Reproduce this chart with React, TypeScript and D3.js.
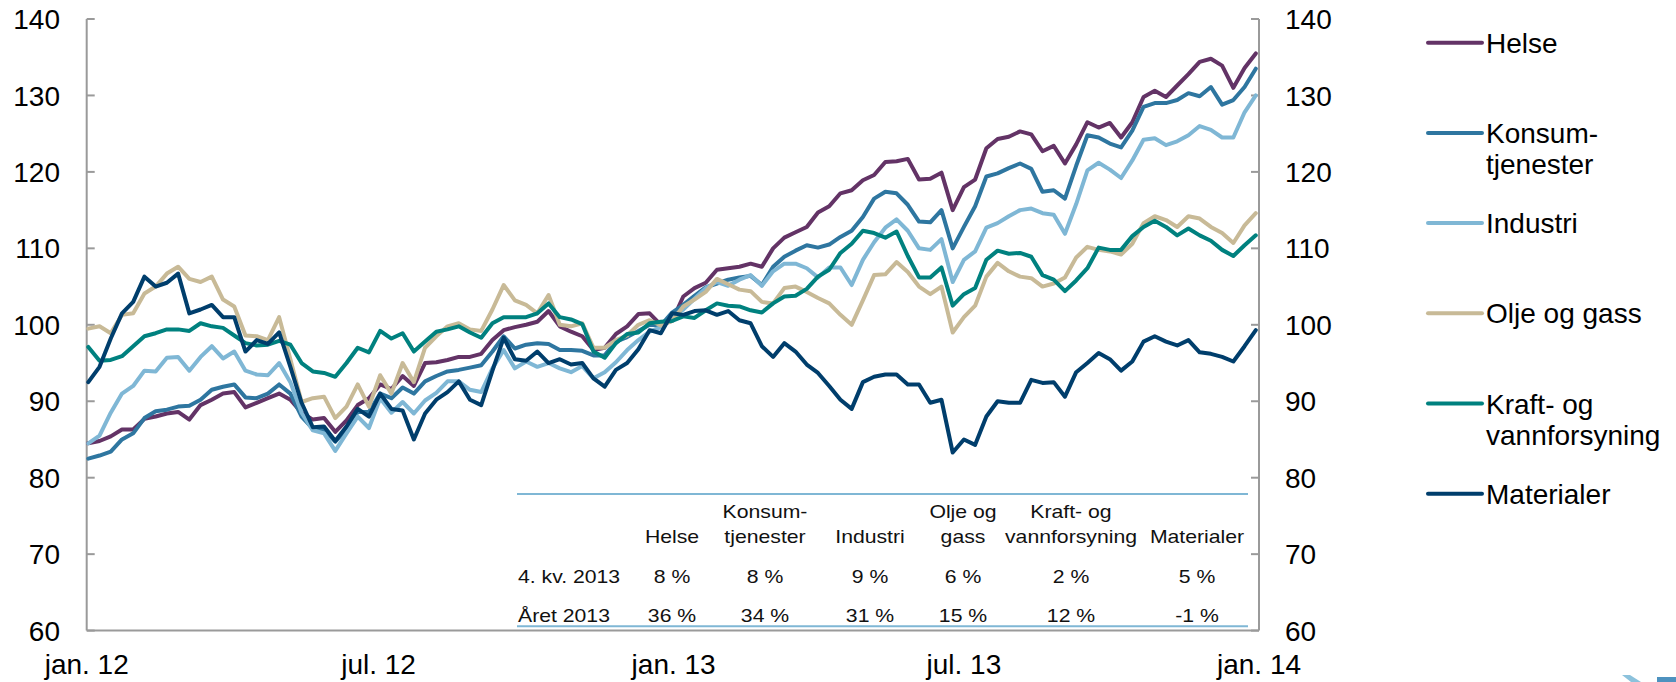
import React from "react";
import * as d3 from "d3";

// ---------- data ----------
const startDate = new Date(2012, 0, 2); // weekly observations
const seriesNames = ["Helse", "Konsumtjenester", "Industri", "Olje og gass", "Kraft- og vannforsyning", "Materialer"];
const legendLines = [["Helse"], ["Konsum-", "tjenester"], ["Industri"], ["Olje og gass"], ["Kraft- og", "vannforsyning"], ["Materialer"]];
const colors = ["#633366", "#2e76a0", "#7fb7d5", "#c8ba97", "#00817f", "#003e6c"];

const helse = [84.5, 84.8, 85.4, 86.3, 86.3, 87.7, 88, 88.4, 88.6, 87.6, 89.5, 90.2, 91, 91.2, 89.2, 89.8, 90.4, 91, 90.2, 88.5, 87.6, 87.8, 86, 87.5, 89.5, 90.4, 92.2, 91.6, 93.3, 92, 95, 95.1, 95.4, 95.8, 95.8, 96.2,
  98, 99.3, 99.7, 100, 100.4, 101.8, 99.8, 99.1, 98.5, 96.7, 97, 98.8, 99.8, 101.4, 101.5, 100, 100.5, 103.7, 104.8, 105.5, 107.2, 107.4, 107.6, 108, 107.6, 110, 111.4, 112.1, 112.8, 114.7, 115.5, 117.2, 117.6, 118.9,
  119.6, 121.3, 121.4, 121.7, 119, 119.1, 119.9, 115, 118, 119, 123.1, 124.3, 124.6, 125.3, 124.9, 122.7, 123.4, 121.1, 123.6, 126.5, 125.8, 126.4, 124.5, 126.5, 129.8, 130.6, 129.8, 131.3, 132.8, 134.4, 134.8, 133.9, 131, 133.6, 135.5];
const konsum = [82.5, 82.9, 83.4, 85, 85.8, 87.8, 88.7, 88.9, 89.3, 89.4, 90.2, 91.5, 91.9, 92.2, 90.5, 90.4, 91, 92.2, 91, 88, 86.4, 86.3, 84.7, 86.3, 88.6, 88.6, 91, 90.4, 91.8, 91, 92.6, 93.3, 93.9, 94.1, 94.4, 94.7,
  96.5, 98.5, 96.9, 97.4, 97.6, 97.5, 96.7, 96.7, 96.6, 96, 96, 97.8, 98.4, 99.2, 100, 99.9, 101.6, 102.6, 103.8, 104.9, 105.4, 105.9, 106.2, 106.4, 105.2, 107.6, 108.9, 109.7, 110.4, 110.1, 110.5, 111.5, 112.3, 114.1,
  116.5, 117.4, 117.2, 115.7, 113.5, 113.4, 115, 110, 112.8, 115.5, 119.4, 119.8, 120.5, 121.1, 120.4, 117.4, 117.6, 116.5, 120.8, 124.8, 124.5, 123.7, 123.2, 125.4, 128.5, 129, 129, 129.4, 130.3, 129.9, 131.1, 128.8, 129.4, 131.1, 133.5];
const industri = [84.5, 85.5, 88.5, 91, 92, 94, 93.9, 95.7, 95.8, 94, 95.8, 97.2, 95.6, 96.5, 94, 93.5, 93.4, 95, 92.5, 88.5, 86.2, 85.8, 83.5, 85.8, 88, 86.5, 90.4, 88.5, 89.9, 88.4, 90.1, 91.1, 92.6, 92.6, 91.5, 91.2,
  94.3, 96.7, 94.3, 95.2, 94.5, 95, 94.3, 93.8, 94.6, 93, 93.8, 95.1, 96.7, 98, 99.1, 99.7, 101, 102, 103.4, 104.8, 105.6, 105.1, 105.9, 106.5, 105.1, 107, 108, 108, 107.4, 106.2, 107.5, 107.5, 105.2, 108.5,
  110.8, 112.7, 113.8, 112.3, 110, 109.8, 111.2, 105.6, 108.5, 109.6, 112.7, 113.3, 114.2, 115, 115.2, 114.6, 114.4, 111.9, 115.8, 120.2, 121.2, 120.3, 119.2, 121.5, 124.2, 124.4, 123.5, 124, 124.8, 126, 125.5, 124.5, 124.5, 127.8, 130];
const olje = [99.5, 99.8, 98.9, 101.3, 101.5, 104.1, 105, 106.7, 107.6, 106, 105.6, 106.3, 103.3, 102.4, 98.6, 98.5, 98, 101, 95.5, 89.9, 90.4, 90.6, 87.8, 89.3, 92.2, 89.3, 93.4, 91, 95, 92.5, 97, 98.5, 99.8, 100.2, 99.4, 99.2,
  102, 105.2, 103.2, 102.6, 101.5, 103.9, 100, 99.8, 100.2, 97, 97, 98, 98.6, 100, 100.6, 99.9, 100.5, 102.4, 103.3, 104.3, 106, 105.3, 104.6, 104.4, 103, 102.8, 104.8, 105, 104.3, 103.5, 102.8, 101.3, 100, 103.2,
  106.5, 106.6, 108.2, 106.9, 105, 104, 105, 99, 101, 102.5, 106.3, 108.1, 107, 106.3, 106.1, 105, 105.4, 106.2, 108.8, 110.2, 109.8, 109.6, 109.2, 110.6, 113.3, 114.2, 113.7, 112.8, 114.2, 113.9, 112.8, 112, 110.7, 113, 114.6];
const kraft = [97.1, 95.3, 95.4, 95.9, 97.2, 98.5, 98.9, 99.4, 99.4, 99.2, 100.2, 99.8, 99.6, 98.6, 97.6, 97.3, 97.4, 97.9, 97.4, 95, 93.9, 93.7, 93.2, 95, 97, 96.4, 99.2, 98.2, 98.9, 96.5, 97.8, 99.1, 99.4, 99.8, 99, 98.3,
  100.2, 101, 101, 101, 101.5, 102.8, 101, 100.7, 100.1, 96.5, 95.7, 97.6, 98.8, 99, 100.2, 100.4, 100.5, 101.1, 100.9, 101.9, 102.8, 102.5, 102.4, 101.9, 101.6, 102.8, 103.7, 103.8, 104.7, 106.3, 107.2, 109.4, 110.6, 112.3,
  112, 111.4, 112.2, 109, 106.2, 106.2, 107.5, 102.5, 104, 104.8, 108.5, 109.7, 109.3, 109.4, 108.9, 106.5, 105.9, 104.4, 105.8, 107.4, 110.1, 109.8, 109.8, 111.6, 112.8, 113.6, 112.8, 111.7, 112.6, 111.7, 111, 109.8, 109, 110.4, 111.7];
const materialer = [92.5, 94.5, 98.2, 101.5, 103, 106.3, 105, 105.5, 106.7, 101.5, 102, 102.6, 101, 101, 96.5, 98, 97.5, 99, 94.5, 89.8, 86.6, 86.7, 84.8, 86.7, 89, 88, 91, 89, 88.8, 85, 88.4, 90.2, 91.2, 92.6, 90.2, 89.5,
  94, 98.3, 95.5, 95.3, 96.5, 95, 95.5, 94.8, 95, 93, 91.9, 94.1, 95, 96.8, 99.3, 98.9, 101.5, 101.3, 101.8, 101.9, 101.3, 101.8, 100.6, 100.2, 97.2, 95.8, 97.6, 96.5, 94.8, 93.7, 92, 90.2, 89, 92.5,
  93.2, 93.5, 93.5, 92.2, 92.2, 89.8, 90.2, 83.3, 85, 84.3, 88, 90, 89.8, 89.8, 92.8, 92.4, 92.5, 90.6, 93.8, 95, 96.3, 95.5, 94, 95.2, 97.8, 98.5, 97.8, 97.3, 98, 96.4, 96.2, 95.8, 95.2, 97.2, 99.3];

const yTicks = [60, 70, 80, 90, 100, 110, 120, 130, 140];
const xTickDates = [new Date(2012, 0, 1), new Date(2012, 6, 1), new Date(2013, 0, 1), new Date(2013, 6, 1), new Date(2014, 0, 1)];
const xTickLabels = ["jan. 12", "jul. 12", "jan. 13", "jul. 13", "jan. 14"];

// table
const tableHead1 = ["", "Konsum-", "", "Olje og", "Kraft- og", ""];
const tableHead2 = ["Helse", "tjenester", "Industri", "gass", "vannforsyning", "Materialer"];
const rowLabels = ["4. kv. 2013", "Året 2013"];
const rowQ4 = ["8 %", "8 %", "9 %", "6 %", "2 %", "5 %"];
const rowYear = ["36 %", "34 %", "31 %", "15 %", "12 %", "-1 %"];

const allSeries = [helse, konsum, industri, olje, kraft, materialer];

const FONT = "'Liberation Sans', Arial, Helvetica, sans-serif";

export default function App() {
  const W = 1676, H = 682;
  const x0 = 86.7, x1 = 1259, yTop = 19, yBot = 630.6;
  const x = d3.scaleTime().domain([new Date(2012, 0, 1), new Date(2014, 0, 1)]).range([x0, x1]);
  const y = d3.scaleLinear().domain([60, 140]).range([yBot, yTop]);
  const dates = helse.map((_, i) => d3.timeDay.offset(startDate, 7 * i));
  const line = d3.line<number>().x((_, i) => x(dates[i])).y((v) => y(v)).curve(d3.curveLinear);

  const axisColor = "#9a9a9a";
  const colX = [672, 765, 870, 963, 1071, 1197];
  const tScale = 1.14;
  const tFont = 18.6;
  const T = (tx: number, ty: number, s: string, anchor: "start" | "middle" = "middle", key?: string) => (
    <text key={key} transform={`translate(${tx},${ty}) scale(${tScale},1)`} textAnchor={anchor} fontSize={tFont} fill="#111">{s}</text>
  );

  return (
    <svg width={W} height={H} style={{ position: "absolute", left: 0, top: 0, background: "#fff" }} fontFamily={FONT}>
      {/* axes */}
      <line x1={x0} y1={yTop} x2={x0} y2={yBot} stroke={axisColor} strokeWidth={2} />
      <line x1={x1} y1={yTop} x2={x1} y2={yBot} stroke={axisColor} strokeWidth={2} />
      <line x1={x0} y1={yBot} x2={x1} y2={yBot} stroke={axisColor} strokeWidth={2} />
      {yTicks.map((t) => (
        <g key={t}>
          <line x1={x0} x2={x0 + 8} y1={y(t)} y2={y(t)} stroke={axisColor} strokeWidth={2} />
          <line x1={x1 - 8} x2={x1} y1={y(t)} y2={y(t)} stroke={axisColor} strokeWidth={2} />
          <text x={60} y={y(t)} dy="0.36em" textAnchor="end" fontSize={28} fill="#000">{t}</text>
          <text x={1285} y={y(t)} dy="0.36em" textAnchor="start" fontSize={28} fill="#000">{t}</text>
        </g>
      ))}
      {xTickDates.map((d, i) => (
        <text key={i} x={x(d)} y={674} textAnchor="middle" fontSize={28} fill="#000">{xTickLabels[i]}</text>
      ))}

      {/* table */}
      <line x1={517} x2={1248} y1={494} y2={494} stroke="#7fb7d5" strokeWidth={2} />
      <line x1={517} x2={1248} y1={626.3} y2={626.3} stroke="#7fb7d5" strokeWidth={2} />
      {tableHead1.map((s, i) => (s ? T(colX[i], 518.3, s, "middle", "h1" + i) : null))}
      {tableHead2.map((s, i) => T(colX[i], 543.3, s, "middle", "h2" + i))}
      {T(518, 583.3, rowLabels[0], "start", "r0")}
      {T(518, 621.7, rowLabels[1], "start", "r1")}
      {rowQ4.map((s, i) => T(colX[i], 583.3, s, "middle", "q" + i))}
      {rowYear.map((s, i) => T(colX[i], 621.7, s, "middle", "a" + i))}

      {/* series */}
      {allSeries.map((s, k) => (
        <path key={seriesNames[k]} d={line(s) || ""} fill="none" stroke={colors[k]} strokeWidth={4} strokeLinejoin="round" strokeLinecap="round" />
      ))}

      {/* legend */}
      {legendLines.map((lines, k) => {
        const ly = 42.7 + 90.2 * k;
        return (
          <g key={k}>
            <line x1={1428} x2={1482} y1={ly} y2={ly} stroke={colors[k]} strokeWidth={4} strokeLinecap="round" />
            {lines.map((t, j) => (
              <text key={j} x={1486} y={ly + 31.5 * j} dy="0.36em" fontSize={28} fill="#000">{t}</text>
            ))}
          </g>
        );
      })}

      {/* logo fragment at bottom right */}
      <polygon points="1622,675 1630,675 1641,682 1631,682" fill="#8cc2dc" />
      <rect x={1657} y={677} width={19} height={5} fill="#4e92bf" />
    </svg>
  );
}
